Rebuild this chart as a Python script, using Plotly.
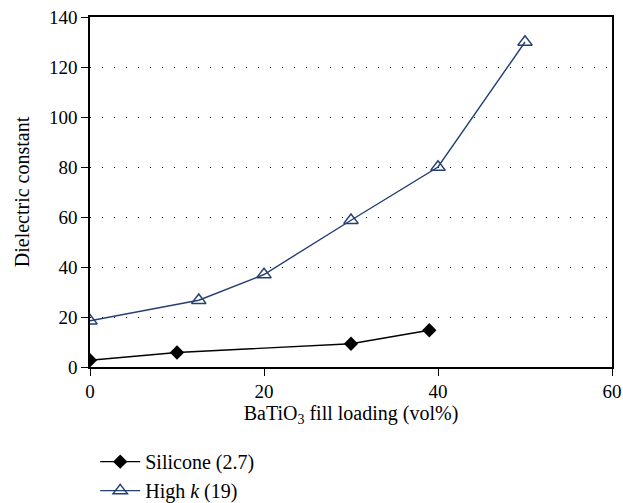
import plotly.graph_objects as go

silicone_x = [0, 10, 30, 39]
silicone_y = [2.7, 5.8, 9.3, 14.7]
highk_x = [0, 12.5, 20, 30, 40, 50]
highk_y = [18.5, 26.7, 37, 58.7, 80, 130]
x_ticks = [0, 20, 40, 60]
y_ticks = [0, 20, 40, 60, 80, 100, 120, 140]

FONT = "Liberation Serif"
NAVY = "#243f73"
FS = 19
FT = 20

fig = go.Figure()
fig.add_trace(go.Scatter(
    x=silicone_x, y=silicone_y, mode="lines+markers", name="Silicone (2.7)",
    line=dict(color="black", width=1.4),
    marker=dict(symbol="diamond", size=11, color="black"),
))
fig.add_trace(go.Scatter(
    x=highk_x, y=highk_y, mode="lines+markers", name="High <i>k</i> (19)",
    line=dict(color=NAVY, width=1.4),
    marker=dict(symbol="triangle-up-open", size=12.5, color=NAVY, line=dict(width=1.5, color=NAVY)),
))

fig.update_layout(
    width=623, height=503,
    margin=dict(l=90, r=11, t=17, b=136, autoexpand=False),
    paper_bgcolor="white", plot_bgcolor="white",
    font=dict(family=FONT, size=FS, color="black"),
    showlegend=True,
    legend=dict(x=0.01, xanchor="left", yref="container", y=0.121, yanchor="top",
                font=dict(family=FONT, size=FT), tracegroupgap=0, itemwidth=40,
                bgcolor="rgba(0,0,0,0)"),
)
fig.update_xaxes(
    range=[0, 60], tickvals=x_ticks, showline=True, linecolor="black", linewidth=1.5,
    mirror=True, ticks="outside", ticklen=7, tickwidth=1, tickcolor="black",
    showgrid=False, zeroline=False, tickfont=dict(family=FONT, size=FS),
    ticklabeloverflow="allow", ticklabelstandoff=-1,
    title=dict(text="BaTiO<sub>3</sub> fill loading (vol%)", font=dict(family=FONT, size=FT), standoff=4),
)
fig.update_yaxes(
    range=[0, 140], tickvals=y_ticks, showline=True, linecolor="black", linewidth=1.5,
    mirror=True, ticks="outside", ticklen=7, tickwidth=1, tickcolor="black",
    showgrid=True, gridcolor="black", gridwidth=1, griddash="1px,11px", zeroline=False,
    tickfont=dict(family=FONT, size=FS), ticklabeloverflow="allow",
    title=dict(text="Dielectric constant", font=dict(family=FONT, size=FT), standoff=14),
)

fig.write_html("out.html", config={"displayModeBar": False},
               post_script="document.body.style.margin='0';")
